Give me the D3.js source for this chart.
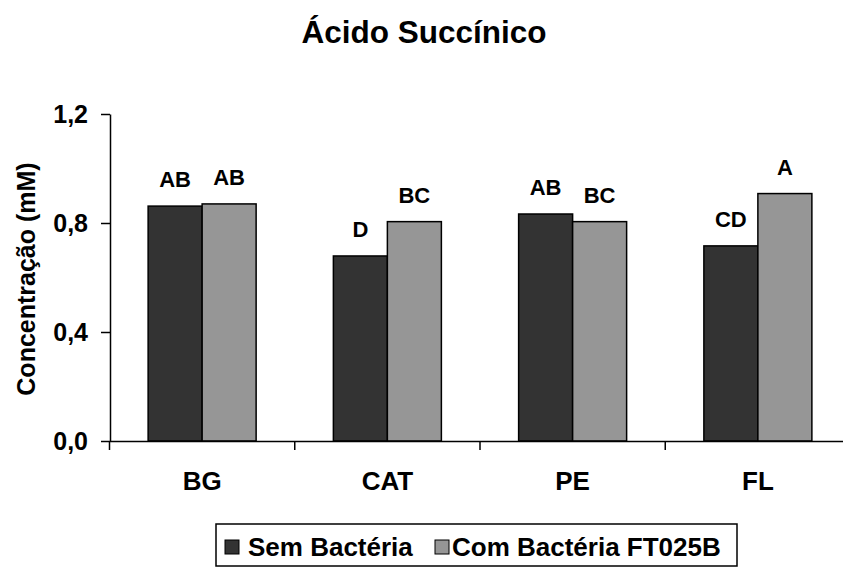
<!DOCTYPE html>
<html>
<head>
<meta charset="utf-8">
<script src="https://cdn.jsdelivr.net/npm/d3@7"></script>
<style>
  html, body { margin: 0; padding: 0; background: #fff; }
  svg { display: block; font-family: Arial, "Liberation Sans", sans-serif; font-weight: bold; }
</style>
</head>
<body>
<svg id="chart" width="843" height="567"></svg>
<script>
// Succinic acid concentration by treatment, with and without bacteria
const categories = ["BG", "CAT", "PE", "FL"];
const seriesNames = ["Sem Bactéria", "Com Bactéria FT025B"];
const semBacteria = [0.862, 0.679, 0.833, 0.716];
const comBacteria = [0.870, 0.805, 0.805, 0.908];
const semLetters = ["AB", "D", "AB", "CD"];
const comLetters = ["AB", "BC", "BC", "A"];
const yTicks = [0, 0.4, 0.8, 1.2];
const colors = ["#333333", "#969696"];

const rows = categories.map((c, i) => ({
  cat: c,
  vals: [
    { s: 0, v: semBacteria[i], lab: semLetters[i] },
    { s: 1, v: comBacteria[i], lab: comLetters[i] }
  ]
}));

const FONT = "Arial, 'Liberation Sans', sans-serif";
const svg = d3.select("#chart");

const x0 = d3.scaleBand().domain(categories).range([109.5, 850.5]).padding(0);
const barW = 54;
const pairOffset = (x0.bandwidth() - 2 * barW) / 2;
const x1 = d3.scaleBand().domain([0, 1]).range([pairOffset, pairOffset + 2 * barW]).padding(0);
const y = d3.scaleLinear().domain([0, 1.2]).range([441, 114]);

// bars
const groups = svg.append("g").selectAll("g").data(rows).join("g")
  .attr("transform", d => `translate(${x0(d.cat)},0)`);

groups.selectAll("rect").data(d => d.vals).join("rect")
  .attr("x", d => x1(d.s))
  .attr("y", d => y(d.v))
  .attr("width", x1.bandwidth())
  .attr("height", d => y(0) - y(d.v))
  .attr("fill", d => colors[d.s])
  .attr("stroke", "#000")
  .attr("stroke-width", 1.5);

// significance letters
groups.selectAll("text").data(d => d.vals).join("text")
  .attr("x", d => x1(d.s) + x1.bandwidth() / 2)
  .attr("y", d => y(d.v) - 19)
  .attr("text-anchor", "middle")
  .attr("font-size", 22)
  .attr("fill", "#000")
  .text(d => d.lab);

// y axis
const yAxis = svg.append("g").attr("transform", "translate(110,0)")
  .call(d3.axisLeft(y).tickValues(yTicks).tickSize(9).tickSizeOuter(0).tickPadding(13)
    .tickFormat(d => d.toFixed(1).replace(".", ",")));
yAxis.attr("font-size", 25).attr("font-family", FONT);
yAxis.selectAll("text").attr("font-weight", "bold").attr("fill", "#000");
yAxis.selectAll("line, path").attr("stroke", "#000").attr("stroke-width", 1.5);

// x axis: labels at category centres, ticks at category boundaries
const xAxis = svg.append("g").attr("transform", `translate(0,${y(0)})`)
  .call(d3.axisBottom(x0).tickSize(0).tickSizeOuter(0).tickPadding(31));
xAxis.attr("font-size", 26).attr("font-family", FONT);
xAxis.selectAll("text").attr("font-weight", "bold").attr("fill", "#000");
xAxis.select("path").attr("stroke", "#000").attr("stroke-width", 1.5);
const bounds = categories.map(c => x0(c)).concat([x0.range()[1]]);
xAxis.selectAll("line.bound").data(bounds).join("line")
  .attr("class", "bound")
  .attr("x1", d => d).attr("x2", d => d)
  .attr("y1", 0).attr("y2", 9)
  .attr("stroke", "#000").attr("stroke-width", 1.5);

// title
svg.append("text")
  .attr("x", 424).attr("y", 43)
  .attr("text-anchor", "middle")
  .attr("font-size", 31.5)
  .text("Ácido Succínico");

// y axis title
svg.append("text")
  .attr("transform", "translate(35,279) rotate(-90)")
  .attr("text-anchor", "middle")
  .attr("font-size", 25)
  .text("Concentração (mM)");

// legend
const legend = svg.append("g");
legend.append("rect")
  .attr("x", 216).attr("y", 524).attr("width", 521).attr("height", 42)
  .attr("fill", "#fff").attr("stroke", "#000").attr("stroke-width", 1.5);
const legX = [225, 435];
const legTextX = [248, 452];
seriesNames.forEach((name, i) => {
  legend.append("rect")
    .attr("x", legX[i]).attr("y", 540).attr("width", 14).attr("height", 14)
    .attr("fill", colors[i]).attr("stroke", "#000").attr("stroke-width", 1);
  legend.append("text")
    .attr("x", legTextX[i]).attr("y", 556)
    .attr("font-size", 26)
    .text(name);
});
</script>
</body>
</html>
